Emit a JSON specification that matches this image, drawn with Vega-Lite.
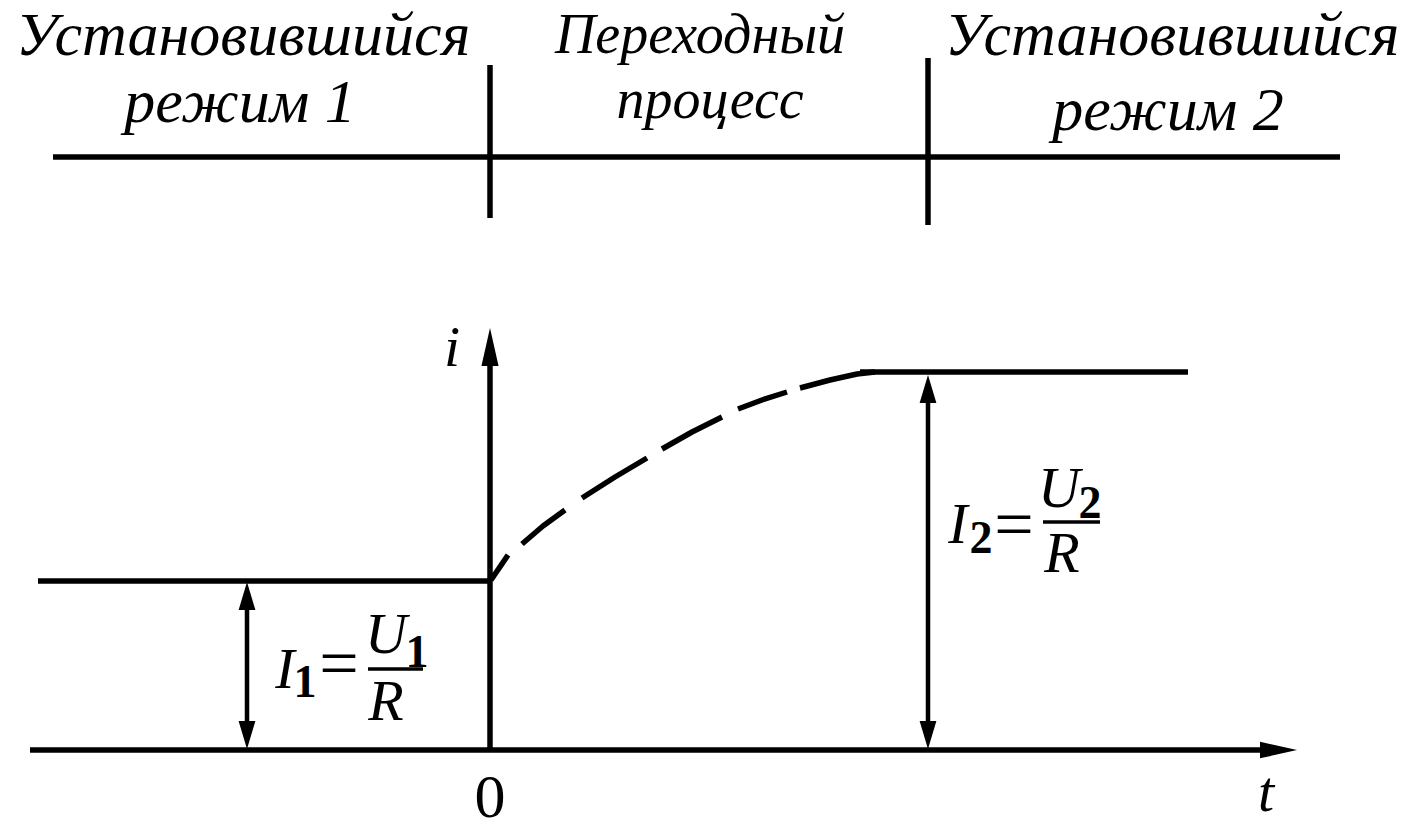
{
  "$schema": "https://vega.github.io/schema/vega-lite/v6.json",
  "width": 1415,
  "height": 833,
  "autosize": {"type": "none"},
  "padding": 0,
  "background": "white",
  "config": {"view": {"stroke": null}},
  "datasets": {
    "heavy": [
      {"t": -437, "i": 593, "t2": 850, "i2": 593},
      {"t": 0, "i": 685, "t2": 0, "i2": 532},
      {"t": 438, "i": 692, "t2": 438, "i2": 525},
      {"t": -460, "i": 0, "t2": 790, "i2": 0},
      {"t": 0, "i": -2, "t2": 0, "i2": 400},
      {"t": -452, "i": 169, "t2": 0, "i2": 169},
      {"t": 370, "i": 378, "t2": 698, "i2": 378}
    ],
    "dims": [
      {"t": -243, "i": 150, "t2": -243, "i2": 15},
      {"t": 438, "i": 360, "t2": 438, "i2": 15}
    ],
    "bars": [
      {"t": -122, "i": 81, "t2": -67, "i2": 81},
      {"t": 553, "i": 228, "t2": 610, "i2": 228}
    ],
    "curve": [
      {"dash": 1, "t": 1, "i": 170}, {"dash": 1, "t": 18, "i": 195},
      {"dash": 2, "t": 32, "i": 206}, {"dash": 2, "t": 53, "i": 224}, {"dash": 2, "t": 75, "i": 240},
      {"dash": 3, "t": 92, "i": 252}, {"dash": 3, "t": 125, "i": 273}, {"dash": 3, "t": 157, "i": 292},
      {"dash": 4, "t": 172, "i": 301}, {"dash": 4, "t": 202, "i": 318}, {"dash": 4, "t": 232, "i": 333},
      {"dash": 5, "t": 248, "i": 341}, {"dash": 5, "t": 272, "i": 350}, {"dash": 5, "t": 297, "i": 358},
      {"dash": 6, "t": 310, "i": 362}, {"dash": 6, "t": 340, "i": 370}, {"dash": 6, "t": 367, "i": 376}, {"dash": 6, "t": 385, "i": 378}
    ],
    "iAxisTip": [{"t": 0, "i": 422}],
    "tAxisTip": [{"t": 807, "i": 0}],
    "dimTipsUp": [
      {"t": -243, "i": 168},
      {"t": 438, "i": 375}
    ],
    "dimTipsDown": [
      {"t": -243, "i": 1},
      {"t": 438, "i": 1}
    ],
    "header": [
      {"t": -247, "i": 695, "txt": "Установившийся"},
      {"t": -250, "i": 628, "txt": "режим  1"},
      {"t": 682, "i": 695, "txt": "Установившийся"},
      {"t": 678, "i": 620, "txt": "режим  2"}
    ],
    "headerMid": [
      {"t": 210, "i": 697, "txt": "Переходный"},
      {"t": 220, "i": 632, "txt": "процесс"}
    ],
    "axisLabels": [
      {"t": -38, "i": 384, "txt": "i"},
      {"t": 776, "i": -61, "txt": "t"}
    ],
    "origin": [
      {"t": 0, "i": -67, "txt": "0"}
    ],
    "formulaItalic": [
      {"t": -205, "i": 62, "txt": "I"},
      {"t": -104, "i": 97, "txt": "U"},
      {"t": -104, "i": 30, "txt": "R"},
      {"t": 468, "i": 207, "txt": "I"},
      {"t": 569, "i": 243, "txt": "U"},
      {"t": 572, "i": 178, "txt": "R"}
    ],
    "subscripts": [
      {"t": -185, "i": 53, "txt": "1"},
      {"t": -73, "i": 83, "txt": "1"},
      {"t": 491, "i": 197, "txt": "2"},
      {"t": 600, "i": 232, "txt": "2"}
    ],
    "equals": [
      {"t": -151, "i": 63, "txt": "="},
      {"t": 524, "i": 202, "txt": "="}
    ]
  },
  "encoding": {
    "x": {"field": "t", "type": "quantitative", "scale": {"domain": [-490, 925], "nice": false, "zero": false}, "axis": null},
    "y": {"field": "i", "type": "quantitative", "scale": {"domain": [-83, 750], "nice": false, "zero": false}, "axis": null}
  },
  "layer": [
    {
      "data": {"name": "heavy"},
      "mark": {"type": "rule", "color": "black", "strokeWidth": 5.5, "strokeCap": "butt"},
      "encoding": {"x2": {"field": "t2"}, "y2": {"field": "i2"}}
    },
    {
      "data": {"name": "dims"},
      "mark": {"type": "rule", "color": "black", "strokeWidth": 4.5, "strokeCap": "butt"},
      "encoding": {"x2": {"field": "t2"}, "y2": {"field": "i2"}}
    },
    {
      "data": {"name": "bars"},
      "mark": {"type": "rule", "color": "black", "strokeWidth": 3.5, "strokeCap": "butt"},
      "encoding": {"x2": {"field": "t2"}, "y2": {"field": "i2"}}
    },
    {
      "data": {"name": "curve"},
      "mark": {"type": "line", "color": "black", "strokeWidth": 5.5, "strokeCap": "butt", "strokeJoin": "round"},
      "encoding": {"detail": {"field": "dash", "type": "nominal"}}
    },
    {
      "data": {"name": "iAxisTip"},
      "mark": {"type": "point", "shape": "M0,0L0.45,2L-0.45,2Z", "size": 1444, "filled": true, "color": "black", "opacity": 1, "strokeWidth": 0}
    },
    {
      "data": {"name": "tAxisTip"},
      "mark": {"type": "point", "shape": "M0,0L-2,0.45L-2,-0.45Z", "size": 1369, "filled": true, "color": "black", "opacity": 1, "strokeWidth": 0}
    },
    {
      "data": {"name": "dimTipsUp"},
      "mark": {"type": "point", "shape": "M0,0L0.6,2L-0.6,2Z", "size": 784, "filled": true, "color": "black", "opacity": 1, "strokeWidth": 0}
    },
    {
      "data": {"name": "dimTipsDown"},
      "mark": {"type": "point", "shape": "M0,0L0.6,-2L-0.6,-2Z", "size": 784, "filled": true, "color": "black", "opacity": 1, "strokeWidth": 0}
    },
    {
      "data": {"name": "header"},
      "mark": {"type": "text", "font": "Liberation Serif", "fontStyle": "italic", "fontSize": 62, "align": "center", "baseline": "alphabetic", "color": "black"},
      "encoding": {"text": {"field": "txt"}}
    },
    {
      "data": {"name": "headerMid"},
      "mark": {"type": "text", "font": "Liberation Serif", "fontStyle": "italic", "fontSize": 56, "align": "center", "baseline": "alphabetic", "color": "black"},
      "encoding": {"text": {"field": "txt"}}
    },
    {
      "data": {"name": "axisLabels"},
      "mark": {"type": "text", "font": "Liberation Serif", "fontStyle": "italic", "fontSize": 58, "align": "center", "baseline": "alphabetic", "color": "black"},
      "encoding": {"text": {"field": "txt"}}
    },
    {
      "data": {"name": "origin"},
      "mark": {"type": "text", "font": "Liberation Serif", "fontSize": 62, "align": "center", "baseline": "alphabetic", "color": "black"},
      "encoding": {"text": {"field": "txt"}}
    },
    {
      "data": {"name": "formulaItalic"},
      "mark": {"type": "text", "font": "Liberation Serif", "fontStyle": "italic", "fontSize": 58, "align": "center", "baseline": "alphabetic", "color": "black"},
      "encoding": {"text": {"field": "txt"}}
    },
    {
      "data": {"name": "subscripts"},
      "mark": {"type": "text", "font": "Liberation Serif", "fontWeight": "bold", "fontSize": 46, "align": "center", "baseline": "alphabetic", "color": "black"},
      "encoding": {"text": {"field": "txt"}}
    },
    {
      "data": {"name": "equals"},
      "mark": {"type": "text", "font": "Liberation Serif", "fontSize": 70, "align": "center", "baseline": "alphabetic", "color": "black"},
      "encoding": {"text": {"field": "txt"}}
    }
  ]
}
